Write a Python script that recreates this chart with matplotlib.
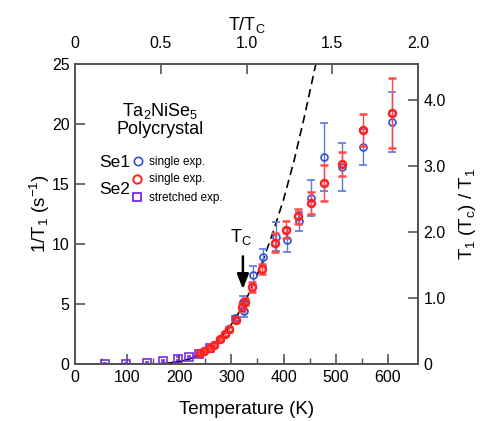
import matplotlib
matplotlib.use("Agg")
import matplotlib.pyplot as plt
import numpy as np

plt.rcParams['font.family'] = ['Liberation Sans', 'DejaVu Sans']
plt.rcParams['mathtext.fontset'] = 'custom'
plt.rcParams['mathtext.rm'] = 'Liberation Sans'
plt.rcParams['mathtext.it'] = 'Liberation Sans'

# Datos
# Se2, exponencial simple (rojo)
T_rojo = [240, 248, 259, 267, 278, 288, 296, 309, 320, 326, 340, 359, 384, 405, 428, 452, 477, 512, 553, 608]
v_rojo = [0.9, 1.1, 1.35, 1.55, 2.05, 2.5, 2.9, 3.7, 4.75, 5.2, 6.4, 7.9, 10.1, 11.2, 12.3, 13.4, 15.1, 16.7, 19.5, 20.9]
e_rojo = [0.05, 0.05, 0.1, 0.1, 0.1, 0.15, 0.2, 0.2, 0.3, 0.3, 0.4, 0.4, 0.8, 0.7, 0.6, 0.9, 1.5, 1.0, 1.3, 2.9]

# Se1, exponencial simple (azul)
T_azul = [307, 322, 325, 342, 361, 385, 406, 429, 452, 477, 512, 553, 608]
v_azul = [3.8, 5.2, 4.4, 7.4, 8.9, 10.6, 10.3, 11.9, 13.8, 17.25, 16.4, 18.1, 20.2]
e_azul = [0.2, 0.5, 0.5, 0.8, 0.7, 1.2, 1.0, 0.8, 1.5, 2.8, 2.0, 1.5, 2.5]

# Se2, exponencial estirada (morado)
T_morado = [58, 98, 138, 168, 198, 219, 238, 258]
v_morado = [0.02, 0.02, 0.1, 0.25, 0.45, 0.6, 0.85, 1.35]
e_morado = [0.05, 0.05, 0.08, 0.1, 0.1, 0.1, 0.1, 0.1]

# Curva de ajuste (continua hasta Tc, discontinua despues)
T_curva = [40, 100, 140, 160, 180, 200, 220, 240, 260, 280, 300, 320, 327]
v_curva = [0.0, 0.0, 0.01, 0.02, 0.08, 0.2, 0.42, 0.8, 1.37, 2.2, 3.3, 4.7, 5.3]
T_guion = [327, 340, 360, 380, 400, 420, 440, 462]
v_guion = [5.3, 6.45, 8.55, 11.0, 13.7, 16.9, 20.6, 25.0]

Tc = 329.0
T_max = 658.0
factor_derecho = 5.5

fig = plt.figure(figsize=(4.82, 4.21), dpi=100)
ax = fig.add_axes([0.156, 0.1354, 0.7110, 0.7126])

gris = '#555555'
c_rojo = '#ff2020'
c_azul = '#3050d0'
c_morado = '#7b2be0'

ax.plot([0, 40], [0, 0], color=c_rojo, lw=1.2, zorder=2)
ax.plot(T_curva, v_curva, color='black', lw=1.2, zorder=3)
ax.plot(T_guion, v_guion, color='black', lw=1.2, ls=(0, (5, 3)), zorder=3)

ax.errorbar(T_morado, v_morado, yerr=e_morado, fmt='s', ms=5.5, mfc='none', mec=c_morado,
            mew=1.2, ecolor=c_morado, elinewidth=0.6, capsize=1.5, capthick=0.6, zorder=4)
ax.errorbar(T_azul, v_azul, yerr=e_azul, fmt='o', ms=5, mfc='none', mec=c_azul,
            mew=1.2, ecolor='#5a78dd', elinewidth=1.0, capsize=3, zorder=5)
ax.errorbar(T_rojo, v_rojo, yerr=e_rojo, fmt='o', ms=5, mfc='none', mec=c_rojo,
            mew=1.8, ecolor='#ff4a4a', elinewidth=1.0, capsize=3, zorder=6)

ax.set_xlim(0, T_max)
ax.set_ylim(0, 25)
ax.set_xticks([0, 100, 200, 300, 400, 500, 600])
ax.set_xticks(np.arange(50, 650, 100), minor=True)
ax.set_yticks([0, 5, 10, 15, 20, 25])
ax.set_xlabel('Temperature (K)', fontsize=13.5, labelpad=12)
ax.set_ylabel('1/T$_1$ (s$^{-1}$)', fontsize=13.5, labelpad=0)
ax.tick_params(direction='in', labelsize=11.5, color=gris, width=1.2, length=7, pad=4)
ax.tick_params(which='minor', direction='in', color=gris, width=1.0, length=4)
for s in ax.spines.values():
    s.set_color(gris)
    s.set_linewidth(1.2)

# Eje superior T/Tc
ax_sup = ax.twiny()
ax_sup.set_xlim(0, T_max / Tc)
ax_sup.set_xticks([0, 0.5, 1.0, 1.5, 2.0])
ax_sup.set_xticklabels(['0', '0.5', '1.0', '1.5', '2.0'])
ax_sup.set_xlabel('T/T$_\\mathrm{C}$', fontsize=13, labelpad=5)
ax_sup.tick_params(direction='in', labelsize=11.5, color=gris, width=1.2, length=7, pad=9)

# Eje derecho T1(Tc)/T1
ax_der = ax.twinx()
ax_der.set_ylim(0, 25 / factor_derecho)
ax_der.set_yticks([0, 1, 2, 3, 4])
ax_der.set_yticklabels(['0', '1.0', '2.0', '3.0', '4.0'])
ax_der.set_ylabel('T$_1$ (T$_\\mathrm{c}$) / T$_1$', fontsize=13.5, labelpad=8)
ax_der.tick_params(direction='in', labelsize=11.5, color=gris, width=1.2, length=7, pad=4)
for a in (ax_sup, ax_der):
    for s in a.spines.values():
        s.set_color(gris)
        s.set_linewidth(1.2)

# Flecha Tc
ax.annotate('', xy=(322, 6.0), xytext=(322, 9.2),
            arrowprops=dict(arrowstyle='-|>,head_width=0.35,head_length=0.9', color='black', lw=1.8))
ax.text(318, 10.6, 'T$_\\mathrm{C}$', fontsize=13, ha='center', va='center')

# Leyenda manual
ax.text(0.249, 0.842, 'Ta$_2$NiSe$_5$', transform=ax.transAxes, fontsize=13, ha='center', va='center')
ax.text(0.249, 0.78, 'Polycrystal', transform=ax.transAxes, fontsize=13, ha='center', va='center')
ax.text(0.07, 0.673, 'Se1', transform=ax.transAxes, fontsize=12.5, ha='left', va='center')
ax.text(0.07, 0.583, 'Se2', transform=ax.transAxes, fontsize=12.5, ha='left', va='center')
ax.plot([0.183], [0.677], 'o', ms=6, mfc='none', mec=c_azul, mew=1.2, transform=ax.transAxes)
ax.plot([0.180], [0.617], 'o', ms=6, mfc='none', mec=c_rojo, mew=1.4, transform=ax.transAxes)
ax.plot([0.180], [0.557], 's', ms=6, mfc='none', mec=c_morado, mew=1.3, transform=ax.transAxes)
ax.text(0.216, 0.673, 'single exp.', transform=ax.transAxes, fontsize=8.5, ha='left', va='center')
ax.text(0.216, 0.617, 'single exp.', transform=ax.transAxes, fontsize=8.5, ha='left', va='center')
ax.text(0.216, 0.553, 'stretched exp.', transform=ax.transAxes, fontsize=8.5, ha='left', va='center')

fig.savefig('out.png', dpi=100)
